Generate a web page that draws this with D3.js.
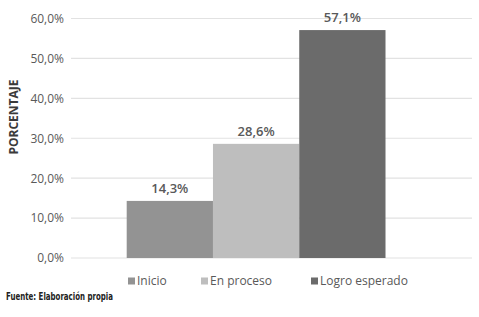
<!DOCTYPE html>
<html><head><meta charset="utf-8">
<script src="https://cdn.jsdelivr.net/npm/d3@7"></script>
<style>body{margin:0;background:#fff}svg{display:block}</style>
</head><body>
<svg id="c" width="479" height="317"></svg>
<script>
const series = ["Inicio", "En proceso", "Logro esperado"];
const values = [14.3, 28.6, 57.1];
const colors = ["#939393", "#bebebe", "#6b6b6b"];
const yTicks = [0, 10, 20, 30, 40, 50, 60];
const yTitle = "PORCENTAJE";
const source = "Fuente: Elaboración propia";

const svg = d3.select("#c");
const font = "'Open Sans', sans-serif";
const fmt = v => d3.format(".1f")(v).replace(".", ",") + "%";

const y = d3.scaleLinear().domain([0, 60]).range([258, 18.5]);
const x = d3.scaleBand().domain(series).range([126.7, 385.5]).padding(0);

// gridlines
svg.append("g").selectAll("line").data(yTicks).join("line")
  .attr("x1", 71).attr("x2", 472)
  .attr("y1", d => y(d)).attr("y2", d => y(d))
  .attr("stroke", "#e2e2e2").attr("stroke-width", 1.2);

// y axis labels
const yAxis = d3.axisLeft(y).tickValues(yTicks).tickFormat(fmt).tickSize(0).tickPadding(0);
const ga = svg.append("g").attr("transform", "translate(64,0)").call(yAxis);
ga.select(".domain").remove();
ga.selectAll("text").attr("font-family", font).attr("font-size", 12).attr("fill", "#595959");

// bars
svg.append("g").selectAll("rect").data(values).join("rect")
  .attr("x", (d, i) => x(series[i]))
  .attr("width", x.bandwidth())
  .attr("y", d => y(d))
  .attr("height", d => y(0) - y(d))
  .attr("fill", (d, i) => colors[i]);

// labels
svg.append("g").selectAll("text").data(values).join("text")
  .attr("x", (d, i) => x(series[i]) + x.bandwidth() / 2)
  .attr("y", d => y(d) - 8)
  .attr("text-anchor", "middle")
  .attr("font-family", font).attr("font-size", 13).attr("font-weight", 600)
  .attr("fill", "#595959")
  .text(d => fmt(d));

// y title
svg.append("text")
  .attr("transform", "translate(18,117) rotate(-90)")
  .attr("text-anchor", "middle")
  .attr("font-family", font).attr("font-size", 12).attr("font-weight", 700)
  .attr("fill", "#3a3a3a")
  .text(yTitle);

// legend
const legX = [128, 201, 311];
const lg = svg.append("g").selectAll("g").data(series).join("g")
  .attr("transform", (d, i) => `translate(${legX[i]},281)`);
lg.append("rect").attr("x", 0).attr("y", -3.5).attr("width", 7).attr("height", 7)
  .attr("fill", (d, i) => colors[i]);
lg.append("text").attr("x", 9).attr("y", 0).attr("dy", "0.36em")
  .attr("font-family", font).attr("font-size", 12).attr("fill", "#595959")
  .text(d => d);

// source
svg.append("text").attr("x", 6).attr("y", 300)
  .attr("font-family", "'Liberation Sans Narrow', 'DejaVu Sans Condensed', 'Liberation Sans', sans-serif")
  .attr("font-size", 10.5).attr("font-weight", 700).attr("fill", "#222")
  .attr("textLength", 107).attr("lengthAdjust", "spacingAndGlyphs")
  .text(source);
</script>
</body></html>
